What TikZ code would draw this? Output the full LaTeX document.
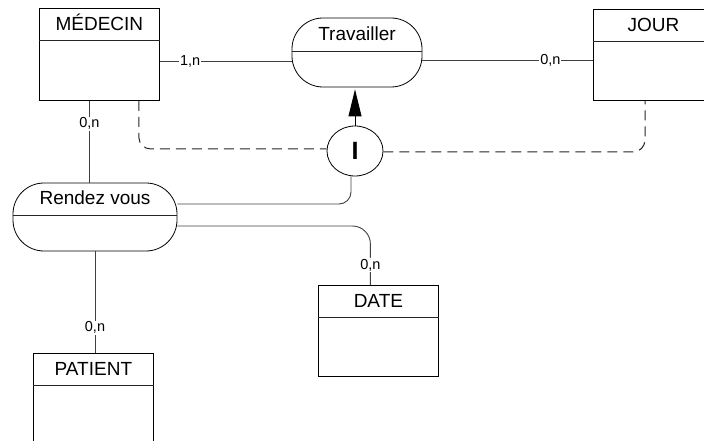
\documentclass[tikz,border=0pt]{standalone}
\usepackage{fontspec}
\setmainfont{Liberation Sans}
\usetikzlibrary{arrows.meta,shapes.geometric}
\begin{document}
\begin{tikzpicture}[x=1pt,y=-1pt,
  entity/.style={draw=black,line width=0.8pt,minimum width=120pt,minimum height=92pt,inner sep=0pt,anchor=north west},
  assoc/.style={draw=black,line width=0.8pt,rounded corners=31pt,minimum height=68pt,inner sep=0pt},
  title/.style={font=\fontsize{19}{22}\selectfont,inner sep=0pt,anchor=base},
  sepline/.style={draw=black!85,line width=0.8pt},
  link/.style={draw=black!75,line width=0.9pt},
  dlink/.style={draw=black!85,line width=1pt,dash pattern=on 10pt off 6pt,rounded corners=12pt},
  card/.style={font=\fontsize{14.5}{16}\selectfont,fill=white,inner sep=1pt}
]
\useasboundingbox (0,0) rectangle (704,441);

% entities
\node[entity] (med) at (39,8) {};
\node[title] (medt) at ([yshift=-22.5pt]med.north) {MÉDECIN};
\draw[sepline] ([yshift=-32.5pt]med.north west) -- ([yshift=-32.5pt]med.north east);

\node[entity,minimum height=91pt] (jour) at (593,9) {};
\node[title] (jourt) at ([yshift=-22.5pt]jour.north) {JOUR};
\draw[sepline] ([yshift=-32pt]jour.north west) -- ([yshift=-32pt]jour.north east);

\node[entity,minimum height=91pt] (date) at (318,285) {};
\node[title] (datet) at ([yshift=-22pt]date.north) {DATE};
\draw[sepline] ([yshift=-32pt]date.north west) -- ([yshift=-32pt]date.north east);

\node[entity] (pat) at (33,353) {};
\node[title] (patt) at ([yshift=-22pt]pat.north) {PATIENT};
\draw[sepline] ([yshift=-32pt]pat.north west) -- ([yshift=-32pt]pat.north east);

% associations
\node[assoc,minimum width=130pt,minimum height=69pt] (trav) at (357,52.5) {};
\node[title] (travt) at ([yshift=-23pt]trav.north) {Travailler};
\draw[sepline] ([yshift=1.5pt]trav.west) -- ([yshift=1.5pt]trav.east);

\node[assoc,minimum width=164pt] (rdv) at (95,217) {};
\node[title] (rdvt) at ([yshift=-22pt]rdv.north) {Rendez vous};
\draw[sepline] ([yshift=2pt]rdv.west) -- ([yshift=2pt]rdv.east);

% inclusion constraint
\node[draw=black,line width=0.8pt,ellipse,minimum width=56pt,minimum height=50pt,inner sep=0pt,
      font=\bfseries\fontsize{25}{28}\selectfont] (inc) at (355,151) {I};

% connectors
\draw[link] ([yshift=-7pt]med.east) -- node[card,pos=0.23] (c1) {1,n} ([yshift=-7pt]med.east -| trav.west);
\draw[link] ([yshift=-7.5pt]trav.east) -- node[card,pos=0.75] (c2) {0,n} ([yshift=-7.5pt]trav.east -| jour.west);
\draw[link] ([xshift=-10pt]med.south) -- node[card,pos=0.28] (c3) {0,n} ([xshift=-10pt]med.south |- rdv.north);
\draw[link] (rdv.south) -- node[card,pos=0.75] (c4) {0,n} (rdv.south |- pat.north);
\draw[link,rounded corners=18pt] ([yshift=-9pt]rdv.east) -| node[card,pos=0.83] (c5) {0,n} ([xshift=-8pt]date.north);
\draw[link,rounded corners=12pt] ([yshift=13pt]rdv.east) -| ([xshift=-4pt]inc.south);
\draw[draw=black,line width=0.9pt,-{Triangle[length=27pt,width=13pt]}] (inc.north) -- ([yshift=-2pt]inc.north |- trav.south);
\draw[dlink] ([xshift=-21pt]med.south east) |- ([yshift=2pt]inc.west);
\draw[dlink] ([yshift=-1pt]inc.east) -| ([xshift=52pt]jour.south west);
\end{tikzpicture}
\end{document}
